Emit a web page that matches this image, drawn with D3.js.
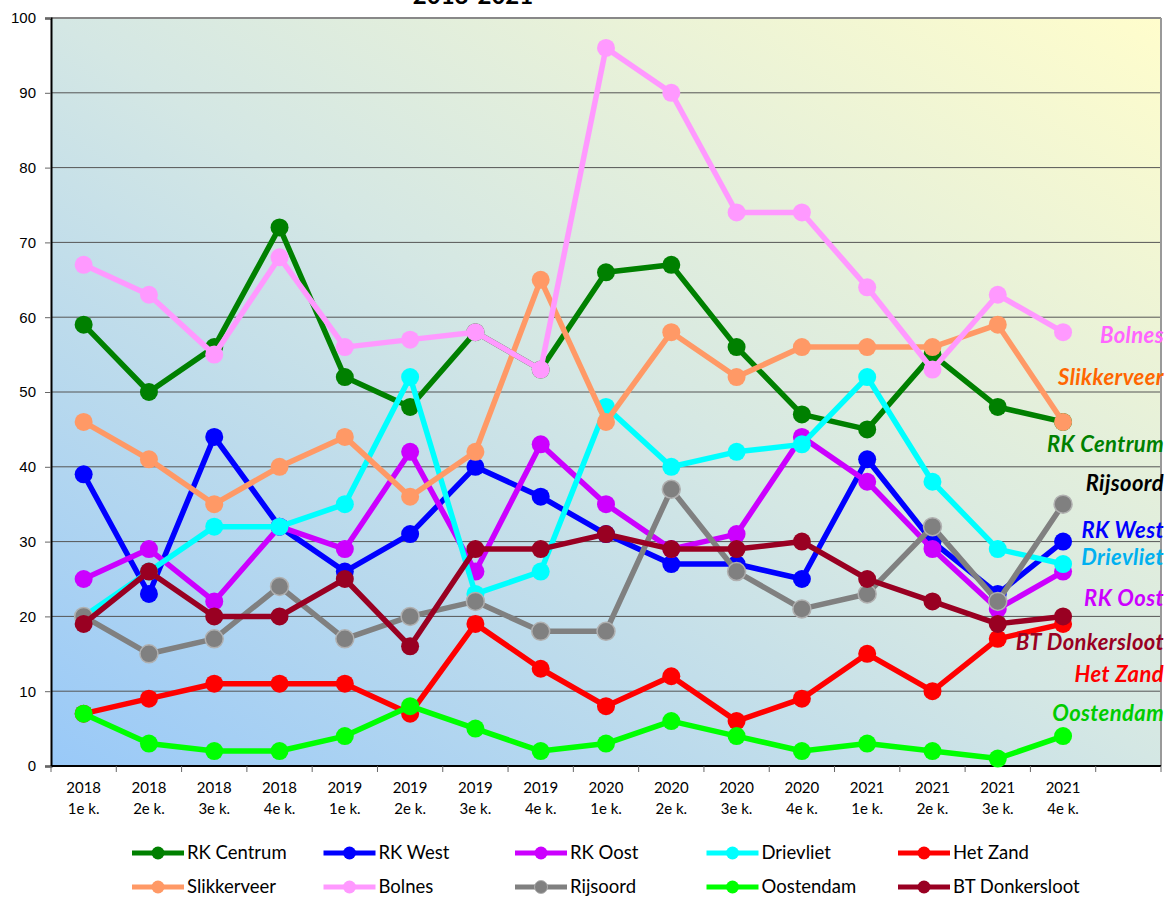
<!DOCTYPE html>
<html>
<head>
<meta charset="utf-8">
<script src="https://cdn.jsdelivr.net/npm/d3@7"></script>
<style>
  body { margin: 0; background: #ffffff; }
  svg { display: block; font-family: Lato, "Open Sans", sans-serif; }
</style>
</head>
<body>
<div class="chart"></div>
<script>
const years = ["2018","2018","2018","2018","2019","2019","2019","2019",
               "2020","2020","2020","2020","2021","2021","2021","2021"];
const quarters = ["1e k.","2e k.","3e k.","4e k.","1e k.","2e k.","3e k.","4e k.",
                  "1e k.","2e k.","3e k.","4e k.","1e k.","2e k.","3e k.","4e k."];

const seriesNames = ["RK Centrum","RK West","RK Oost","Drievliet","Het Zand",
                     "Slikkerveer","Bolnes","Rijsoord","Oostendam","BT Donkersloot"];

const rkCentrum    = [59,50,56,72,52,48,58,53,66,67,56,47,45,55,48,46];
const rkWest       = [39,23,44,32,26,31,40,36,31,27,27,25,41,30,23,30];
const rkOost       = [25,29,22,32,29,42,26,43,35,29,31,44,38,29,21,26];
const drievliet    = [20,26,32,32,35,52,23,26,48,40,42,43,52,38,29,27];
const hetZand      = [7,9,11,11,11,7,19,13,8,12,6,9,15,10,17,19];
const slikkerveer  = [46,41,35,40,44,36,42,65,46,58,52,56,56,56,59,46];
const bolnes       = [67,63,55,68,56,57,58,53,96,90,74,74,64,53,63,58];
const rijsoord     = [20,15,17,24,17,20,22,18,18,37,26,21,23,32,22,35];
const oostendam    = [7,3,2,2,4,8,5,2,3,6,4,2,3,2,1,4];
const btDonkersloot= [19,26,20,20,25,16,29,29,31,29,29,30,25,22,19,20];

const seriesValues = [rkCentrum, rkWest, rkOost, drievliet, hetZand,
                      slikkerveer, bolnes, rijsoord, oostendam, btDonkersloot];

const yTicks = [0,10,20,30,40,50,60,70,80,90,100];

// styling
const lineColors  = ["#008000","#0000ff","#cc00ff","#00ffff","#ff0000",
                     "#ff9966","#ff99ff","#808080","#00ff00","#990022"];
const labelColors = ["#008000","#0000ff","#cc00ff","#00b0f0","#ff0000",
                     "#ff6600","#ff66ff","#000000","#00cc00","#990022"];
// vertical anchor (in value units) for the end labels on the right
const labelAt = [43, 31.5, 22.4, 27.9, 12.2, 51.9, 57.6, 37.8, 7.1, 16.6];

const W = 1170, H = 899;
const margin = {top: 18, right: 9, bottom: 133, left: 51};

const svg = d3.select(".chart").append("svg")
    .attr("width", W).attr("height", H);

const defs = svg.append("defs");
const grad = defs.append("linearGradient")
    .attr("id","bg").attr("x1",0).attr("y1",1).attr("x2",1).attr("y2",0);
grad.append("stop").attr("offset","0%").attr("stop-color","#99c9f8");
grad.append("stop").attr("offset","50%").attr("stop-color","#d4e7e4");
grad.append("stop").attr("offset","100%").attr("stop-color","#fffdcc");

const x0 = margin.left, x1 = W - margin.right;
const y0 = H - margin.bottom, y1 = margin.top;

const x = d3.scaleBand()
    .domain(d3.range(years.length + 1))
    .range([x0, x1])
    .paddingInner(0).paddingOuter(0);

const y = d3.scaleLinear().domain([0,100]).range([y0, y1]);

const cx = i => x(i) + x.bandwidth() / 2;

// title (cut off at top, as in the original)
svg.append("text")
    .attr("x", 473).attr("y", 4)
    .attr("text-anchor","middle")
    .style("font-size","24px").style("font-weight","bold")
    .text("2018-2021");

// plot background
svg.append("rect")
    .attr("x", x0).attr("y", y1)
    .attr("width", x1 - x0).attr("height", y0 - y1)
    .attr("fill","url(#bg)");

// gridlines
svg.append("g")
    .selectAll("line")
    .data(yTicks.slice(1))
    .enter().append("line")
    .attr("x1", x0).attr("x2", x1)
    .attr("y1", d => y(d)).attr("y2", d => y(d))
    .attr("stroke", d => d === 100 ? "#888" : "#555")
    .attr("stroke-width", d => d === 100 ? 2 : 1);

// right border
svg.append("line")
    .attr("x1", x1).attr("x2", x1).attr("y1", y1).attr("y2", y0)
    .attr("stroke","#999").attr("stroke-width",2);

// y axis
const yAxis = svg.append("g")
    .attr("transform", `translate(${x0},0)`)
    .call(d3.axisLeft(y).tickValues(yTicks).tickSize(6).tickFormat(d3.format("d")));
yAxis.select(".domain").attr("stroke","#000").attr("stroke-width",2);
yAxis.selectAll(".tick line").attr("stroke","#666");
yAxis.selectAll(".tick text")
    .attr("x",-15)
    .style("font-size","15px").attr("fill","#000");

// x axis
svg.append("line")
    .attr("x1", x0).attr("x2", x1).attr("y1", y0).attr("y2", y0)
    .attr("stroke","#000").attr("stroke-width",2);

const edges = d3.range(years.length + 2);
svg.append("g")
    .selectAll("line")
    .data(edges)
    .enter().append("line")
    .attr("x1", d => d <= years.length ? x(d) : x1)
    .attr("x2", d => d <= years.length ? x(d) : x1)
    .attr("y1", y0).attr("y2", y0 + 6)
    .attr("stroke","#666");

const xl = svg.append("g")
    .selectAll("text")
    .data(years)
    .enter().append("text")
    .attr("text-anchor","middle")
    .style("font-size","15px");
xl.append("tspan")
    .attr("x", (d,i) => cx(i)).attr("y", y0 + 27)
    .text(d => d);
xl.append("tspan")
    .attr("x", (d,i) => cx(i)).attr("y", y0 + 48)
    .text((d,i) => quarters[i]);

// series
const line = d3.line()
    .x((d,i) => cx(i))
    .y(d => y(d));

seriesValues.forEach((vals, s) => {
    const g = svg.append("g");
    g.append("path")
        .datum(vals)
        .attr("d", line)
        .attr("fill","none")
        .attr("stroke", lineColors[s])
        .attr("stroke-width", 5.5)
        .attr("stroke-linejoin","round");
    g.selectAll("circle")
        .data(vals)
        .enter().append("circle")
        .attr("cx", (d,i) => cx(i))
        .attr("cy", d => y(d))
        .attr("r", 9)
        .attr("fill", lineColors[s])
        .attr("stroke", seriesNames[s] === "Rijsoord" ? "#b0b0b0" : "none")
        .attr("stroke-width", 1.5);
});

// end labels
svg.append("g")
    .selectAll("text")
    .data(seriesNames)
    .enter().append("text")
    .attr("x", x1 + 3)
    .attr("y", (d,i) => y(labelAt[i]))
    .attr("dy","0.35em")
    .attr("text-anchor","end")
    .attr("fill", (d,i) => labelColors[i])
    .style("font-size","22px")
    .style("letter-spacing","0.4px")
    .style("font-weight","bold")
    .style("font-style","italic")
    .text(d => d);

// legend
const legend = svg.append("g");
const item = legend.selectAll("g")
    .data(seriesNames)
    .enter().append("g")
    .attr("transform", (d,i) => `translate(${132 + (i % 5) * 191.5},${i < 5 ? 853 : 887})`);
item.append("line")
    .attr("x1",0).attr("x2",52).attr("y1",0).attr("y2",0)
    .attr("stroke",(d,i) => lineColors[i]).attr("stroke-width",5);
item.append("circle")
    .attr("cx",26).attr("cy",0).attr("r",6.5)
    .attr("fill",(d,i) => lineColors[i])
    .attr("stroke",(d) => d === "Rijsoord" ? "#b0b0b0" : "none");
item.append("text")
    .attr("x",55).attr("y",0).attr("dy","0.35em")
    .style("font-size","18.5px")
    .text(d => d);
</script>
</body>
</html>
